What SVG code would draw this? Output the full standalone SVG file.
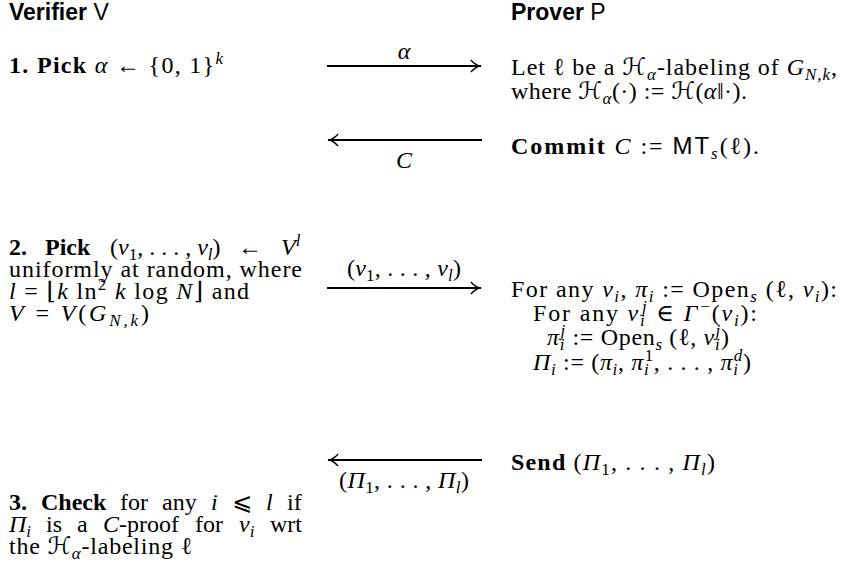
<svg xmlns="http://www.w3.org/2000/svg" width="854" height="580" viewBox="0 0 854 580">
<style>
.t{font-family:"Liberation Serif","DejaVu Serif",serif;font-size:24px;fill:#000}
.h{font-family:"Liberation Sans",Arial,sans-serif;font-size:23px;fill:#000}
.b{font-weight:bold}
.i{font-style:italic}
.s{font-size:17px;baseline-shift:-5px}
.p{font-size:17px;baseline-shift:9.5px}
.sans{font-family:"Liberation Sans",Arial,sans-serif}
.cal{font-family:"DejaVu Serif","DejaVu Sans",serif;font-style:italic}
.sym{font-family:"DejaVu Serif","DejaVu Sans",serif}
.arr{stroke:#000;stroke-width:1.9;fill:none}
</style>
<defs>
<marker id="ah" markerUnits="userSpaceOnUse" orient="auto" markerWidth="16" markerHeight="16" viewBox="-12 -8 14 16" refX="0" refY="0">
<path d="M0.8,0 C-3.5,-1.2 -7,-3.6 -9.6,-6.6 L-10.6,-5.6 C-8.4,-3 -6,-1.2 -3.6,0 C-6,1.2 -8.4,3 -10.6,5.6 L-9.6,6.6 C-7,3.6 -3.5,1.2 0.8,0 Z" fill="#000"/>
</marker>
</defs>

<g id="headers">
<text class="h" x="9" y="20"><tspan font-weight="bold">Verifier</tspan> V</text>
<text class="h" x="511" y="20"><tspan font-weight="bold">Prover</tspan> P</text>
</g>

<g id="verifier-step1">
<text class="t" x="9" y="73" textLength="214" lengthAdjust="spacing"><tspan class="b">1. Pick</tspan> <tspan class="i">α</tspan> ← {0, 1}<tspan class="p i">k</tspan></text>
</g>

<g id="prover-label">
<text class="t" x="511" y="75" textLength="326" lengthAdjust="spacing">Let ℓ be a <tspan class="cal">ℋ</tspan><tspan class="s i">α</tspan>-labeling of <tspan class="i">G</tspan><tspan class="s i">N,k</tspan>,</text>
<text class="t" x="511" y="99" textLength="236" lengthAdjust="spacing">where <tspan class="cal">ℋ</tspan><tspan class="s i">α</tspan>(·) := <tspan class="cal">ℋ</tspan>(<tspan class="i">α</tspan>‖·).</text>
</g>

<g id="prover-commit">
<text class="t" x="511" y="154" textLength="248" lengthAdjust="spacing"><tspan class="b">Commit</tspan> <tspan class="i">C</tspan> := <tspan class="sans">MT</tspan><tspan class="s i">s</tspan>(ℓ).</text>
</g>

<g id="verifier-step2">
<text class="t" y="255"><tspan class="b" x="9">2.</tspan><tspan class="b" x="45">Pick</tspan><tspan x="110">(<tspan class="i">v</tspan><tspan class="s">1</tspan>, . . . , <tspan class="i">v</tspan><tspan class="s i">l</tspan>)</tspan><tspan x="238">←</tspan><tspan class="i" x="281">V</tspan><tspan class="p i">l</tspan></text>
<text class="t" x="9" y="277" textLength="293" lengthAdjust="spacing">uniformly at random, where</text>
<text class="t" x="9" y="299" textLength="240" lengthAdjust="spacing"><tspan class="i">l</tspan> = <tspan class="sym">⌊</tspan><tspan class="i">k</tspan> ln<tspan class="p">2</tspan> <tspan class="i">k</tspan> log <tspan class="i">N</tspan><tspan class="sym">⌋</tspan> and</text>
<text class="t" x="9" y="321" textLength="140" lengthAdjust="spacing"><tspan class="i">V</tspan> = <tspan class="i">V</tspan>(<tspan class="i">G</tspan><tspan class="s i">N,k</tspan>)</text>
</g>

<g id="prover-open">
<text class="t" x="511" y="297" textLength="326" lengthAdjust="spacing">For any <tspan class="i">v</tspan><tspan class="s i">i</tspan>, <tspan class="i">π</tspan><tspan class="s i">i</tspan> := Open<tspan class="s i">s</tspan> (ℓ, <tspan class="i">v</tspan><tspan class="s i">i</tspan>):</text>
<text class="t" x="645" y="321" text-anchor="middle" textLength="224" lengthAdjust="spacing">For any <tspan class="i">v</tspan><tspan class="s i">i</tspan><tspan class="p i" dx="-4.7">j</tspan> ∈ <tspan class="i">Γ</tspan><tspan class="p" dx="1">−</tspan>(<tspan class="i">v</tspan><tspan class="s i">i</tspan>):</text>
<text class="t" x="638" y="345" text-anchor="middle" textLength="182" lengthAdjust="spacing"><tspan class="i">π</tspan><tspan class="s i">i</tspan><tspan class="p i" dx="-4.7">j</tspan> := Open<tspan class="s i">s</tspan> (ℓ, <tspan class="i">v</tspan><tspan class="s i">i</tspan><tspan class="p i" dx="-4.7">j</tspan>)</text>
<text class="t" x="642" y="370" text-anchor="middle" textLength="218" lengthAdjust="spacing"><tspan class="i">Π</tspan><tspan class="s i">i</tspan> := (<tspan class="i">π</tspan><tspan class="s i">i</tspan>, <tspan class="i">π</tspan><tspan class="s i">i</tspan><tspan class="p" dx="-4.7">1</tspan>, . . . , <tspan class="i">π</tspan><tspan class="s i">i</tspan><tspan class="p i" dx="-4.7">d</tspan>)</text>
</g>

<g id="prover-send">
<text class="t" x="511" y="470" textLength="204" lengthAdjust="spacing"><tspan class="b">Send</tspan> (<tspan class="i">Π</tspan><tspan class="s">1</tspan>, . . . , <tspan class="i">Π</tspan><tspan class="s i">l</tspan>)</text>
</g>

<g id="verifier-step3">
<text class="t" y="510"><tspan class="b" x="9">3.</tspan><tspan class="b" x="41">Check</tspan><tspan x="120">for</tspan><tspan x="162">any</tspan><tspan class="i" x="211">i</tspan><tspan class="sym" x="232">⩽</tspan><tspan class="i" x="266">l</tspan><tspan x="287">if</tspan></text>
<text class="t" y="532"><tspan class="i" x="9">Π</tspan><tspan class="s i">i</tspan><tspan x="46">is</tspan><tspan x="77">a</tspan><tspan class="i" x="103">C</tspan>-proof<tspan x="195">for</tspan><tspan class="i" x="239">v</tspan><tspan class="s i">i</tspan><tspan x="270">wrt</tspan></text>
<text class="t" x="9" y="554" textLength="183" lengthAdjust="spacing">the <tspan class="cal">ℋ</tspan><tspan class="s i">α</tspan>-labeling ℓ</text>
</g>

<g id="connectors">
<line class="arr" x1="327" y1="66" x2="481" y2="66" marker-end="url(#ah)"/>
<text class="t i" x="404" y="59" text-anchor="middle">α</text>
<line class="arr" x1="482" y1="140" x2="328" y2="140" marker-end="url(#ah)"/>
<text class="t i" x="404" y="168" text-anchor="middle">C</text>
<line class="arr" x1="327" y1="288" x2="481" y2="288" marker-end="url(#ah)"/>
<text class="t" x="404" y="276" text-anchor="middle" textLength="114" lengthAdjust="spacing">(<tspan class="i">v</tspan><tspan class="s">1</tspan>, . . . , <tspan class="i">v</tspan><tspan class="s i">l</tspan>)</text>
<line class="arr" x1="482" y1="460" x2="328" y2="460" marker-end="url(#ah)"/>
<text class="t" x="404" y="488" text-anchor="middle" textLength="130" lengthAdjust="spacing">(<tspan class="i">Π</tspan><tspan class="s">1</tspan>, . . . , <tspan class="i">Π</tspan><tspan class="s i">l</tspan>)</text>
</g>
</svg>
